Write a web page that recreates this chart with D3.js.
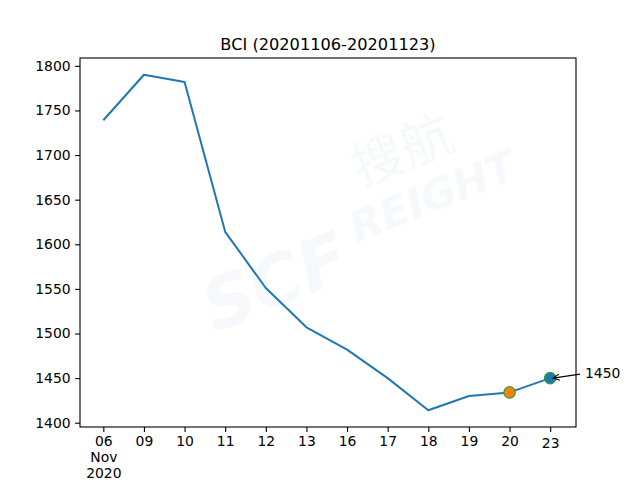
<!DOCTYPE html>
<html>
<head>
<meta charset="utf-8">
<script src="https://cdn.jsdelivr.net/npm/d3@7"></script>
<style>
  html, body { margin: 0; padding: 0; background: #fff; }
  svg { display: block; font-family: "DejaVu Sans", sans-serif; }
</style>
</head>
<body>
<svg id="chart" width="640" height="480"></svg>
<script>
const categories = ["06", "09", "10", "11", "12", "13", "16", "17", "18", "19", "20", "23"];
const values = [1739, 1790, 1782, 1614, 1551, 1507, 1482, 1450, 1414, 1430, 1434, 1450];
const yTicks = [1400, 1450, 1500, 1550, 1600, 1650, 1700, 1750, 1800];
const titleText = "BCI (20201106-20201123)";
const firstTickExtra = ["Nov", "2020"];
const highlightPrev = 10;  // orange marker index
const highlightLast = 11;  // blue marker index
const annotationText = "1450";

const svg = d3.select("#chart");
const pL = 80, pR = 576, pT = 58, pB = 427;

const x = d3.scaleLinear().domain([-0.574, 11.636]).range([pL, pR]);
const ymin = d3.min(values), ymax = d3.max(values);
const m = (ymax - ymin) * 0.05;
const y = d3.scaleLinear().domain([ymin - m, ymax + m]).range([pB, pT]);

// watermark
const wm = svg.append("g").attr("transform", "translate(340,215) rotate(-22)").attr("opacity", 0.035);
wm.append("text").attr("x", -160).attr("y", 62).attr("font-size", 70).attr("font-weight", "bold")
  .attr("font-style", "italic").attr("fill", "#1f5fa0").text("SCF");
wm.append("text").attr("x", 30).attr("y", -18).attr("font-size", 52)
  .attr("font-family", "Noto Sans CJK SC").attr("fill", "#1f5fa0").text("搜航");
wm.append("text").attr("x", 5).attr("y", 32).attr("font-size", 42).attr("font-weight", "bold")
  .attr("font-style", "italic").attr("fill", "#1f5fa0").text("REIGHT");

// axes
const xAxis = d3.axisBottom(x).tickValues(d3.range(categories.length))
  .tickFormat(i => categories[i]).tickSize(4.9).tickPadding(4.5);
const gx = svg.append("g").attr("transform", `translate(0,${pB})`).call(xAxis);
const yAxis = d3.axisLeft(y).tickValues(yTicks).tickFormat(d3.format("d")).tickSize(4.9).tickPadding(4.5);
const gy = svg.append("g").attr("transform", `translate(${pL},0)`).call(yAxis);

[gx, gy].forEach(g => {
  g.select(".domain").remove();
  g.selectAll(".tick line").attr("stroke", "#000").attr("stroke-width", 1.1);
  g.selectAll(".tick text").attr("fill", "#000").attr("font-size", 13.9)
    .attr("font-family", "DejaVu Sans, sans-serif");
});
gx.selectAll(".tick text").each(function(i) {
  const t = d3.select(this);
  if (i === 0) {
    firstTickExtra.forEach((s) => {
      t.append("tspan").attr("x", 0).attr("dy", "1.15em").text(s);
    });
  }
  if (i === categories.length - 1) t.attr("dy", "0.85em");
});

// frame
svg.append("rect").attr("x", pL).attr("y", pT).attr("width", pR - pL).attr("height", pB - pT)
  .attr("fill", "none").attr("stroke", "#000").attr("stroke-width", 1.1);

// line
const line = d3.line().x((d, i) => x(i)).y(d => y(d));
svg.append("path").datum(values).attr("d", line).attr("fill", "none")
  .attr("stroke", "#1f77b4").attr("stroke-width", 2.0).attr("stroke-linejoin", "round");

// markers
svg.append("circle").attr("cx", x(highlightPrev)).attr("cy", y(values[highlightPrev])).attr("r", 5.7)
  .attr("fill", "#ff7f0e").attr("stroke", "#2ca02c").attr("stroke-width", 1.2);
svg.append("circle").attr("cx", x(highlightLast)).attr("cy", y(values[highlightLast])).attr("r", 5.7)
  .attr("fill", "#1f77b4").attr("stroke", "#2ca02c").attr("stroke-width", 1.2);

// annotation
const ax = x(highlightLast) + 3, ay = y(values[highlightLast]);
const tx = 580, ty = ay - 4;
svg.append("line").attr("x1", tx).attr("y1", ty).attr("x2", ax).attr("y2", ay)
  .attr("stroke", "#000").attr("stroke-width", 1.1);
const ang = Math.atan2(ty - ay, tx - ax);
const hl = 7, ha = 0.45;
svg.append("path")
  .attr("d", `M${ax + hl*Math.cos(ang+ha)},${ay + hl*Math.sin(ang+ha)} L${ax},${ay} L${ax + hl*Math.cos(ang-ha)},${ay + hl*Math.sin(ang-ha)}`)
  .attr("fill", "none").attr("stroke", "#000").attr("stroke-width", 1.1);
svg.append("text").attr("x", 585).attr("y", ay).attr("font-size", 13.9).attr("fill", "#000")
  .text(annotationText);

// title
svg.append("text").attr("x", (pL + pR) / 2).attr("y", 50).attr("text-anchor", "middle")
  .attr("font-size", 16.2).attr("fill", "#000").text(titleText);
</script>
</body>
</html>
